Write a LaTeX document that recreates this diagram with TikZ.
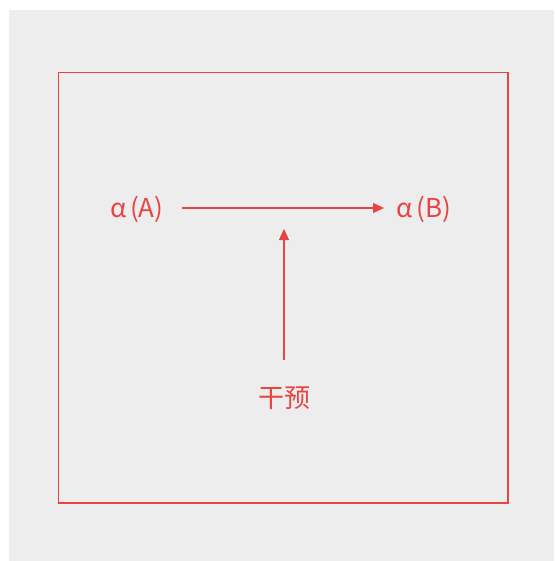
\documentclass[tikz,border=0pt]{standalone}
\usepackage{fontspec}
\setmainfont{Noto Sans CJK SC}
\usetikzlibrary{arrows.meta}
\definecolor{redc}{RGB}{232,68,68}
\definecolor{bgc}{RGB}{237,237,237}
\tikzset{
  lbl/.style={text=redc, font=\fontsize{26}{31}\selectfont, inner sep=0pt},
  conn/.style={draw=redc, line width=1.2pt, -{Triangle[length=11pt,width=10pt]}}
}
\begin{document}
\begin{tikzpicture}[x=1pt,y=-1pt]
\useasboundingbox (0,0) rectangle (554,561);
\fill[bgc] (9,10) rectangle (554,561);
\draw[redc, line width=1.3pt] (58.5,72.5) rectangle (508,503);
\node[lbl] (A) at (137,209) {α\hspace{3.5pt}(A)};
\node[lbl] (B) at (424,209) {α\hspace{3.5pt}(B)};
\node[lbl] (C) at (284,398) {干预};
\coordinate (As) at (182,208);
\coordinate (Be) at (384,208);
\draw[conn] (As) -- (Be);
\coordinate (T) at (284,229);
\coordinate (Cs) at (284,360);
\draw[conn] (Cs) -- (T);
\end{tikzpicture}
\end{document}
